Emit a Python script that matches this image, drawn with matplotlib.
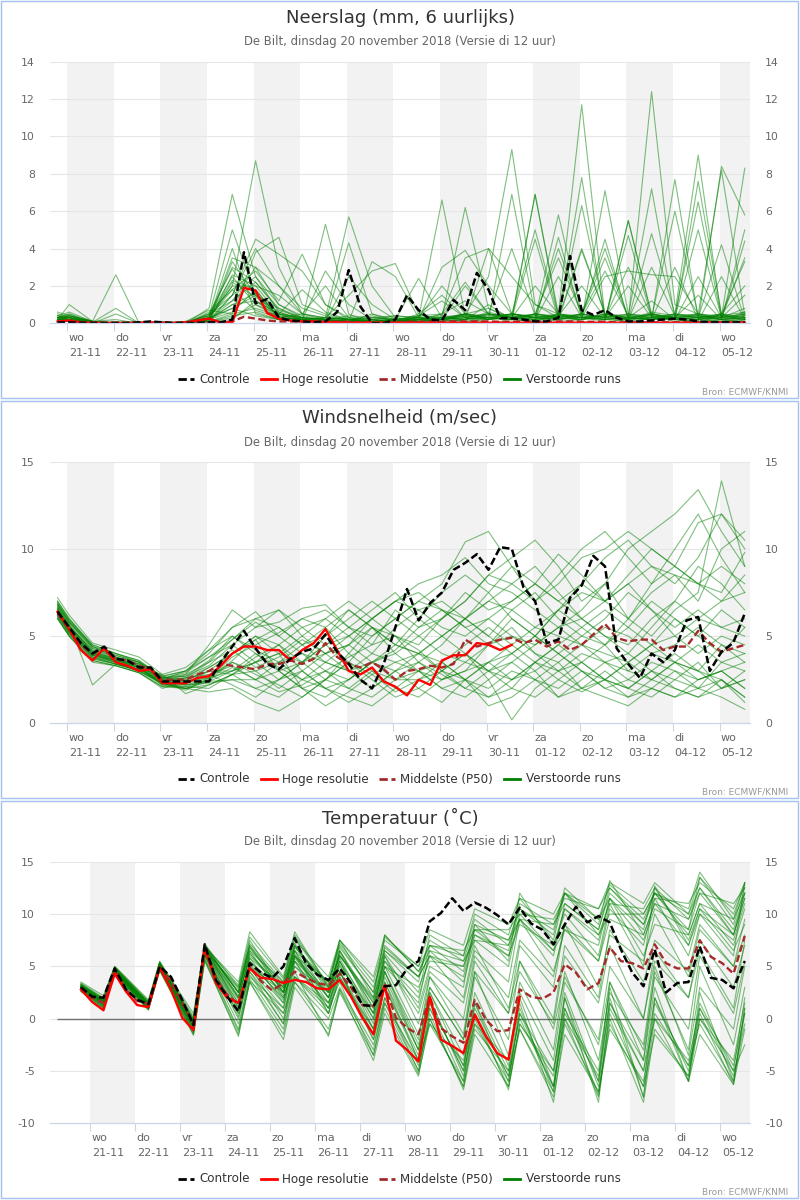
import matplotlib
matplotlib.use("Agg")
import matplotlib.pyplot as plt
from matplotlib.lines import Line2D
from matplotlib.patches import Rectangle
from matplotlib.transforms import blended_transform_factory, ScaledTranslation

plt.rcParams['font.family'] = ['DejaVu Sans']
plt.rcParams['axes.unicode_minus'] = False

# ---------------- data ----------------
SUBTITLE = "De Bilt, dinsdag 20 november 2018 (Versie di 12 uur)"
TITLES = ["Neerslag (mm, 6 uurlijks)", "Windsnelheid (m/sec)", "Temperatuur (\u02daC)"]
DAY_NAMES = ["wo", "do", "vr", "za", "zo", "ma", "di", "wo", "do", "vr", "za", "zo", "ma", "di", "wo"]
DAY_DATES = ["21-11", "22-11", "23-11", "24-11", "25-11", "26-11", "27-11", "28-11",
             "29-11", "30-11", "01-12", "02-12", "03-12", "04-12", "05-12"]
LEGEND_LABELS = ["Controle", "Hoge resolutie", "Middelste (P50)", "Verstoorde runs"]
SOURCE = "Bron: ECMWF/KNMI"

# time axis: hours after 21-11 00h, 6-hourly from 20-11 19h
HOURS = list(range(-5, 350, 6))
ENS_IDX = [0] + list(range(1, 60, 2))                                   # wind / precip members
ENS_IDX_T = [0] + [k for d in range(15) for k in (2 + 4 * d, 3 + 4 * d)]  # temperature members

# ---- precipitation ----
PRECIP_CTRL = [0.05, 0.05, 0.03, 0.02, 0.02, 0.02, 0.02, 0.05, 0.1, 0.05, 0.02, 0.02, 0.02, 0.05, 0.05,
               0.2, 3.8, 1.07, 1.3, 0.3, 0.15, 0.1, 0.05, 0.1, 0.6, 2.85, 0.9, 0.0, 0.0, 0.2,
               1.5, 0.7, 0.2, 0.15, 1.25, 0.7, 2.7, 1.8, 0.27, 0.27,
               0.2, 0.1, 0.1, 0.3, 3.6, 0.7, 0.45, 0.7, 0.3, 0.1,
               0.1, 0.15, 0.2, 0.25, 0.2, 0.1, 0.05, 0.05, 0.05, 0.05]
PRECIP_HIRES = [0.10, 0.15, 0.05, 0.03, 0.02, 0.02, 0.02, 0.03, 0.05, 0.03,
                0.02, 0.05, 0.15, 0.25, 0.05, 0.05, 1.90, 1.75, 0.55, 0.25,
                0.15, 0.10, 0.10, 0.05, 0.05, 0.03, 0.03, 0.03, 0.03, 0.03,
                0.03, 0.03, 0.03, 0.03, 0.03, 0.03, 0.03, 0.03, 0.03, 0.03,
                0.03, 0.03, 0.03, 0.03, 0.03, 0.03, 0.03, 0.03, 0.03, 0.03,
                0.03, 0.03, 0.03, 0.03, 0.03, 0.03, 0.03, 0.03, 0.03, 0.03]
PRECIP_MED = [0.05, 0.05, 0.03, 0.02, 0.02, 0.02, 0.02, 0.02, 0.02, 0.02,
              0.02, 0.02, 0.03, 0.05, 0.05, 0.1, 0.35, 0.25, 0.15, 0.1,
              0.1, 0.08, 0.08, 0.1, 0.08, 0.08, 0.05, 0.05, 0.05, 0.05,
              0.08, 0.08, 0.08, 0.08, 0.1, 0.1, 0.1, 0.1, 0.08, 0.08,
              0.1, 0.08, 0.08, 0.1, 0.1, 0.08, 0.08, 0.08, 0.05, 0.05,
              0.05, 0.05, 0.05, 0.05, 0.05, 0.05, 0.05, 0.05, 0.05, 0.05]
PRECIP_RUNS = [
    [0.2, 1.0, 0.1, 0, 0, 0, 0, 0.3, 2.0, 8.7, 3.0, 0.5, 0.2, 0.1, 0, 0.1, 0.5, 1.5, 0.3, 0, 0.2, 6.9, 0.5, 0.1, 0, 0.3, 1.2, 0.2, 0, 0.5, 0.1],
    [0.3, 0.4, 0.1, 2.6, 0, 0, 0, 0.1, 3.3, 1.5, 0.8, 0.2, 5.3, 0.5, 0, 0, 0.1, 0, 0.2, 1.0, 0.2, 0.1, 0.5, 11.7, 0.3, 0.1, 0.5, 0.2, 2.5, 0.3, 0.8],
    [0.1, 0.2, 0.05, 0.8, 0, 0, 0, 0.8, 6.9, 2.5, 1.0, 0.3, 0.1, 4.3, 0.5, 0.1, 0, 0.3, 6.2, 0.8, 0.2, 0.1, 4.6, 0.3, 0.1, 5.5, 0.4, 0.1, 0.2, 0.1, 0.3],
    [0.5, 0.3, 0, 0, 0.1, 0, 0, 0.2, 1.5, 4.5, 3.7, 2.8, 1.0, 0.3, 0.1, 0, 0.2, 3.0, 3.9, 2.0, 0.5, 0.3, 0.1, 0.2, 7.1, 0.5, 0.3, 0.2, 0.1, 8.4, 5.8],
    [0.2, 0.1, 0, 0.1, 0, 0, 0, 0.5, 2.9, 1.2, 0.5, 0.2, 0.3, 5.7, 2.0, 0.3, 0.1, 0.2, 0.5, 2.5, 9.3, 1.0, 0.3, 6.3, 0.5, 0.2, 12.4, 1.0, 0.5, 0.2, 0.1],
    [0.4, 0.6, 0.1, 0, 0, 0, 0.1, 0.4, 3.0, 2.2, 0.7, 0.3, 0.2, 0.1, 3.3, 2.5, 0.3, 0.1, 0.2, 0.3, 0.2, 0.5, 3.5, 0.5, 2.8, 0.4, 7.2, 0.3, 1.5, 0.2, 4.4],
    [0.1, 0.2, 0, 0.5, 0, 0, 0, 0.1, 0.5, 3.8, 4.6, 1.0, 0.5, 0.2, 0.1, 0, 0.4, 1.2, 0.3, 0.5, 0.3, 6.9, 0.3, 7.8, 0.2, 4.7, 0.3, 0.2, 7.6, 0.5, 3.3],
    [0.3, 0.3, 0.05, 0, 0, 0, 0, 0.6, 1.8, 2.8, 1.2, 3.7, 1.0, 0.2, 0, 0.1, 0.3, 0.2, 2.0, 0.5, 0.3, 4.5, 0.2, 0.5, 4.0, 0.3, 0.2, 3.0, 0.2, 0.1, 0.5],
    [0.2, 0.2, 0, 0, 0, 0, 0, 0.3, 2.3, 1.8, 0.3, 0.2, 0.3, 1.5, 2.8, 3.2, 0.5, 0.2, 0.1, 0.3, 0.5, 0.3, 5.8, 0.5, 0.2, 0.1, 0.3, 0.5, 9.0, 0.3, 0.2],
    [0.1, 0.1, 0, 0, 0, 0.1, 0, 0.2, 1.0, 1.6, 0.5, 0.1, 0.2, 0.4, 0.3, 0.2, 2.4, 0.3, 0.5, 0.2, 6.9, 0.5, 0.3, 0.2, 0.5, 0.3, 0.2, 0.4, 0.5, 8.2, 0.4],
    [0.6, 0.4, 0.1, 0, 0, 0, 0, 0.1, 0.3, 1.0, 0.5, 0.3, 0.2, 0.1, 0.1, 0.2, 0.3, 6.6, 0.4, 0.2, 0.3, 0.5, 0.4, 0.3, 0.2, 5.5, 0.5, 0.2, 0.3, 0.1, 0.2],
    [0.2, 0.3, 0.1, 0.2, 0, 0, 0, 0.4, 5.0, 1.5, 0.3, 0.5, 2.0, 0.3, 0.2, 0.1, 0.2, 0.5, 3.5, 4.0, 2.5, 1.0, 0.5, 0.3, 2.5, 2.8, 2.6, 2.5, 0.5, 0.3, 1.5],
    [0.3, 0.2, 0, 0, 0, 0, 0, 0.2, 1.2, 3.0, 2.0, 0.8, 0.4, 0.2, 0.1, 0.3, 0.2, 0.1, 0.3, 0.2, 0.5, 0.3, 4.0, 0.5, 0.3, 0.2, 0.6, 0.4, 6.5, 0.3, 0.5],
    [0.1, 0.1, 0, 0, 0, 0, 0.1, 0.7, 0.5, 0.8, 0.4, 0.3, 0.2, 0.1, 0.5, 0.2, 0.1, 0.2, 0.5, 0.8, 0.3, 2.0, 0.5, 0.2, 0.3, 0.5, 0.2, 0.3, 0.1, 2.5, 0.2],
    [0.2, 0.4, 0.1, 0, 0, 0, 0, 0.2, 4.0, 0.5, 0.2, 0.1, 0.1, 0.2, 0.1, 0.1, 0.2, 0.3, 0.2, 0.6, 0.3, 0.1, 0.4, 2.0, 0.3, 0.2, 4.8, 0.5, 0.3, 0.2, 0.6],
    [0.4, 0.2, 0, 0, 0, 0, 0, 0.1, 2.6, 2.0, 1.5, 0.5, 0.3, 0.2, 0.1, 0.1, 0.2, 0.1, 0.5, 0.3, 0.4, 0.2, 0.5, 0.3, 0.4, 0.2, 0.3, 0.5, 0.4, 0.3, 8.3],
    [0.2, 0.1, 0, 0, 0, 0, 0, 0.3, 0.8, 0.4, 0.2, 0.1, 0.3, 0.2, 0.4, 0.1, 0.1, 0.5, 1.2, 0.5, 0.4, 0.3, 0.2, 3.9, 0.5, 0.3, 0.2, 7.7, 0.3, 0.5, 0.2],
    [0.3, 0.5, 0, 0, 0, 0, 0, 0.5, 1.5, 2.5, 0.6, 0.2, 0.1, 0.3, 0.2, 0.1, 0.3, 0.2, 0.1, 0.2, 0.5, 0.4, 0.2, 0.3, 4.5, 0.2, 0.4, 0.3, 0.2, 0.5, 0.3],
    [0.1, 0.1, 0, 0, 0, 0, 0, 0.1, 0.2, 1.2, 0.3, 0.2, 0.1, 0.2, 0.1, 0.1, 0.2, 0.3, 0.5, 0.2, 0.3, 0.5, 0.3, 0.2, 0.5, 0.4, 0.3, 0.2, 0.5, 0.2, 5.0],
    [0.2, 0.3, 0.05, 0, 0, 0, 0, 0.2, 0.6, 1.8, 0.3, 0.2, 0.1, 0.2, 0.3, 0.4, 0.3, 0.2, 0.4, 0.3, 0.2, 0.3, 0.4, 0.3, 0.2, 0.3, 0.5, 0.3, 0.4, 0.2, 0.3],
    [0.3, 0.5, 0.1, 0, 0, 0, 0, 0.2, 3.5, 3.0, 1.0, 0.4, 0.2, 0.1, 0.2, 0.1, 0.2, 0.3, 0.2, 4.0, 0.5, 0.3, 0.2, 0.5, 0.3, 3.0, 0.4, 0.2, 0.3, 4.2, 0.2],
    [0.2, 0.2, 0, 0, 0, 0, 0, 0.4, 2.5, 1.0, 0.3, 0.2, 2.8, 1.0, 0.2, 0.1, 0.3, 2.0, 0.5, 0.3, 0.2, 0.4, 0.3, 4.0, 0.5, 0.3, 0.2, 0.3, 5.0, 0.3, 0.4],
    [0.1, 0.2, 0, 0, 0, 0, 0, 0.1, 1.5, 4.0, 2.0, 0.5, 0.3, 0.2, 0.1, 0.1, 0.2, 0.2, 0.4, 0.3, 0.5, 5.0, 0.4, 0.3, 0.2, 0.4, 0.3, 0.2, 0.4, 0.3, 3.5],
    [0.4, 0.3, 0.05, 0, 0, 0, 0, 0.3, 2.0, 2.0, 0.5, 1.8, 0.6, 0.2, 0.1, 0.2, 0.4, 0.5, 2.2, 0.5, 0.3, 0.2, 0.3, 0.5, 0.3, 2.0, 0.3, 6.0, 0.4, 0.2, 0.3],
    [0.2, 0.3, 0, 0, 0, 0, 0, 0.2, 0.8, 1.5, 0.4, 0.2, 0.1, 2.5, 1.0, 0.2, 0.1, 0.2, 0.3, 0.5, 4.0, 0.4, 0.3, 0.5, 3.5, 0.3, 0.2, 0.4, 0.3, 0.5, 2.0],
    [0.3, 0.4, 0.1, 0, 0, 0, 0, 0.5, 1.2, 2.2, 0.8, 0.3, 0.2, 0.1, 0.2, 0.4, 0.3, 0.2, 0.5, 0.4, 0.3, 0.2, 2.5, 0.3, 0.4, 0.2, 0.5, 0.3, 0.2, 0.4, 0.6],
    [0.1, 0.1, 0, 0, 0, 0, 0, 0.1, 0.4, 0.6, 0.2, 0.1, 0.2, 0.1, 0.1, 0.2, 0.1, 0.3, 0.2, 0.5, 0.3, 0.2, 0.4, 0.3, 0.5, 0.2, 3.0, 0.4, 0.3, 0.2, 0.4],
    [0.2, 0.2, 0, 0, 0, 0, 0, 0.2, 1.0, 1.2, 0.5, 0.3, 0.2, 0.1, 0.3, 0.2, 0.4, 0.3, 0.2, 0.4, 0.5, 0.3, 0.2, 0.4, 0.3, 0.5, 0.4, 0.3, 0.5, 0.4, 0.3],
    [0.3, 0.3, 0.05, 0, 0, 0, 0, 0.3, 1.8, 0.7, 0.3, 0.2, 0.1, 0.2, 0.1, 0.1, 0.2, 0.4, 0.3, 0.2, 0.4, 0.3, 0.5, 0.4, 0.2, 0.3, 0.2, 0.5, 0.3, 0.4, 0.2],
    [0.2, 0.4, 0.05, 0, 0, 0, 0, 0.2, 2.2, 1.4, 0.6, 0.2, 0.3, 0.2, 0.1, 0.2, 0.3, 0.2, 0.4, 0.3, 0.2, 0.5, 0.3, 0.2, 0.4, 0.3, 0.5, 0.3, 0.2, 0.3, 0.5],
]

# ---- wind ----
WIND_CTRL = [6.4, 5.5, 4.6, 4.0, 4.4, 3.7, 3.6, 3.2, 3.2, 2.4,
             2.4, 2.4, 2.4, 2.4, 3.5, 4.4, 5.3, 4.3, 3.4, 3.1,
             3.7, 4.1, 4.3, 5.1, 4.1, 3.4, 2.5, 2.0, 3.4, 5.5,
             7.7, 5.9, 6.9, 7.5, 8.8, 9.2, 9.7, 8.8, 10.1, 10.0,
             7.8, 7.0, 4.6, 4.8, 7.2, 7.9, 9.6, 9.0, 4.3, 3.4,
             2.6, 4.0, 3.5, 4.2, 5.9, 6.1, 3.0, 4.1, 4.6, 6.3]
WIND_HIRES = [6.4, 5.4, 4.2, 3.6, 4.3, 3.5, 3.3, 3.0, 3.1, 2.3,
              2.3, 2.3, 2.6, 2.7, 3.3, 4.0, 4.4, 4.4, 4.2, 4.2,
              3.6, 4.2, 4.6, 5.4, 4.2, 3.0, 2.8, 3.2, 2.4, 2.1,
              1.6, 2.5, 2.2, 3.6, 3.9, 3.9, 4.6, 4.5, 4.2, 4.5]
WIND_MED = [6.3, 5.4, 4.5, 4.0, 4.3, 3.7, 3.6, 3.3, 3.1, 2.5,
            2.5, 2.5, 2.8, 3.0, 3.4, 3.3, 3.2, 3.1, 3.4, 3.4,
            3.6, 3.4, 3.7, 4.6, 3.8, 3.4, 3.2, 3.5, 3.1, 2.5,
            3.0, 3.1, 3.3, 3.2, 3.4, 4.8, 4.4, 4.6, 4.8, 4.9,
            4.6, 4.8, 4.4, 4.7, 4.2, 4.5, 5.1, 5.7, 4.9, 4.7,
            4.8, 4.8, 4.2, 4.4, 4.4, 5.3, 4.6, 4.1, 4.3, 4.5]
WIND_RUNS = [
    [6.6, 5.6, 4.1, 3.7, 3.3, 2.5, 2.2, 2.6, 3.8, 4.5, 5.2, 6.0, 5.5, 4.0, 3.0, 2.5, 3.5, 4.5, 6.0, 7.0, 8.0, 9.0, 7.5, 6.0, 5.0, 4.0, 5.5, 7.0, 9.0, 8.0, 6.5],
    [6.2, 5.2, 3.8, 3.5, 3.0, 2.3, 2.0, 2.4, 2.5, 2.0, 1.5, 2.5, 3.0, 2.0, 1.5, 2.5, 3.0, 2.0, 1.5, 2.5, 3.5, 2.5, 2.0, 3.0, 2.5, 1.5, 2.0, 3.0, 2.0, 1.5, 0.8],
    [7.0, 6.0, 4.4, 3.9, 3.5, 2.6, 2.8, 3.5, 4.8, 6.0, 5.5, 4.5, 5.0, 6.5, 5.5, 4.0, 5.0, 6.0, 7.0, 8.5, 9.5, 10.5, 9.0, 7.0, 8.0, 10.0, 11.0, 12.0, 13.4, 11.0, 9.0],
    [6.0, 5.0, 3.5, 3.3, 2.9, 2.1, 2.0, 1.8, 2.0, 1.2, 0.7, 1.5, 2.5, 3.5, 2.5, 1.5, 2.0, 3.0, 4.0, 3.0, 2.5, 3.5, 3.0, 2.0, 2.5, 3.5, 4.5, 3.5, 2.5, 3.0, 2.0],
    [6.8, 5.8, 4.3, 3.8, 3.4, 2.7, 3.0, 4.0, 5.5, 6.4, 5.0, 4.0, 3.5, 3.0, 4.0, 5.5, 6.5, 7.0, 6.0, 5.0, 6.5, 7.5, 6.0, 5.0, 4.5, 6.0, 7.5, 8.5, 7.0, 10.0, 11.0],
    [6.4, 5.4, 4.0, 3.6, 3.2, 2.4, 2.5, 3.0, 3.0, 3.5, 4.0, 3.5, 4.5, 5.0, 4.0, 3.5, 4.0, 3.0, 2.5, 3.5, 4.5, 5.5, 5.0, 4.5, 5.5, 5.0, 4.0, 4.5, 5.5, 4.5, 4.0],
    [6.7, 5.7, 2.2, 3.4, 3.1, 2.8, 1.7, 2.2, 2.8, 3.8, 4.5, 3.0, 2.0, 1.5, 1.0, 2.0, 3.0, 3.5, 2.5, 1.5, 2.0, 3.5, 4.5, 3.5, 2.5, 2.0, 3.0, 2.5, 2.0, 3.5, 4.0],
    [6.5, 5.5, 4.2, 3.7, 3.3, 2.4, 2.8, 4.5, 6.5, 5.5, 5.8, 6.6, 6.8, 5.5, 4.5, 6.5, 5.5, 6.0, 7.5, 6.5, 7.0, 8.0, 9.7, 8.5, 7.0, 8.0, 9.0, 8.5, 8.0, 9.0, 8.0],
    [6.3, 5.3, 3.9, 3.5, 3.2, 2.2, 2.0, 2.5, 3.5, 3.0, 2.0, 3.0, 4.0, 4.5, 3.5, 3.0, 2.0, 1.2, 2.5, 3.5, 4.0, 3.0, 1.5, 2.5, 3.5, 4.0, 3.0, 2.0, 1.5, 2.5, 1.5],
    [6.9, 5.9, 4.5, 4.0, 3.6, 2.6, 2.4, 3.2, 4.0, 5.0, 4.0, 5.0, 6.0, 5.0, 6.0, 7.0, 8.0, 8.5, 9.5, 8.0, 7.5, 6.5, 5.5, 6.5, 8.0, 6.0, 5.0, 6.5, 7.5, 13.9, 9.0],
    [6.1, 5.1, 3.7, 3.4, 3.0, 2.3, 2.1, 2.0, 2.8, 3.0, 3.5, 4.0, 3.0, 2.5, 3.5, 4.5, 4.0, 3.5, 4.5, 5.5, 4.5, 3.5, 4.5, 5.5, 6.5, 5.5, 4.5, 5.0, 4.0, 5.0, 4.5],
    [6.6, 5.6, 4.1, 3.6, 3.4, 2.5, 3.0, 3.8, 4.5, 3.5, 4.5, 5.5, 4.5, 3.5, 5.0, 6.0, 5.0, 4.0, 3.5, 4.5, 6.0, 5.0, 4.0, 5.0, 6.0, 7.5, 6.5, 5.5, 6.5, 5.5, 5.0],
    [6.4, 5.4, 4.0, 3.5, 3.1, 2.4, 2.6, 2.8, 3.3, 2.5, 1.8, 2.2, 3.0, 3.8, 4.5, 5.0, 4.2, 3.0, 2.0, 3.0, 4.0, 5.0, 4.0, 3.0, 2.0, 1.5, 2.5, 3.5, 3.0, 2.0, 2.5],
    [7.2, 6.2, 4.6, 4.2, 3.8, 2.8, 3.2, 4.2, 5.0, 4.0, 3.0, 3.5, 5.0, 6.0, 7.0, 6.0, 7.0, 8.0, 10.4, 11.0, 9.0, 7.0, 8.5, 10.0, 11.0, 9.5, 8.0, 10.0, 12.0, 9.5, 7.5],
    [6.2, 5.2, 3.9, 3.6, 3.2, 2.2, 2.2, 2.3, 2.5, 2.5, 3.5, 2.5, 2.0, 2.5, 3.5, 2.5, 2.5, 3.0, 4.0, 2.5, 0.2, 2.0, 3.0, 4.0, 3.5, 2.5, 2.0, 1.5, 2.5, 3.0, 3.5],
    [6.5, 5.5, 4.0, 3.6, 3.3, 2.5, 2.6, 3.5, 4.2, 3.2, 3.8, 4.8, 4.0, 3.0, 3.5, 4.2, 5.5, 6.5, 5.5, 4.5, 5.0, 4.0, 3.5, 4.5, 4.0, 3.5, 4.5, 6.0, 5.0, 4.0, 5.5],
    [6.3, 5.3, 3.8, 3.4, 3.1, 2.3, 1.9, 2.6, 3.6, 4.8, 3.0, 2.0, 2.5, 4.0, 5.5, 5.0, 3.5, 2.5, 3.0, 4.5, 5.5, 4.0, 3.0, 3.5, 4.5, 3.0, 2.5, 3.5, 4.5, 3.5, 3.0],
    [6.8, 5.8, 4.3, 3.9, 3.5, 2.7, 2.3, 3.0, 2.8, 2.0, 2.5, 3.5, 4.5, 5.5, 6.5, 7.5, 6.0, 5.0, 6.0, 7.0, 6.5, 5.5, 6.5, 7.5, 7.0, 8.5, 10.0, 9.0, 8.0, 7.5, 9.8],
    [6.0, 5.0, 3.6, 3.3, 2.9, 2.0, 2.4, 2.6, 3.0, 3.5, 4.0, 2.0, 1.0, 1.8, 2.8, 3.5, 3.0, 2.0, 2.5, 1.0, 1.5, 2.5, 3.5, 2.0, 1.5, 1.0, 2.0, 1.5, 2.0, 2.5, 1.2],
    [6.7, 5.7, 4.2, 3.8, 3.4, 2.6, 2.7, 3.3, 4.5, 5.5, 6.5, 5.0, 4.0, 4.5, 6.0, 7.0, 7.5, 6.5, 5.5, 6.0, 5.0, 4.5, 5.5, 6.0, 5.0, 4.5, 6.0, 7.0, 6.0, 5.5, 6.0],
    [6.5, 5.5, 4.0, 3.7, 3.2, 2.4, 2.5, 3.0, 4.0, 5.0, 4.5, 3.5, 4.0, 5.0, 6.0, 7.0, 6.5, 5.5, 5.0, 6.0, 7.0, 8.0, 7.0, 6.0, 7.0, 8.0, 6.5, 5.0, 6.0, 7.0, 7.5],
    [6.1, 5.1, 3.8, 3.4, 3.0, 2.3, 2.4, 2.8, 2.2, 1.5, 2.5, 3.5, 2.5, 2.0, 3.0, 2.0, 1.5, 2.5, 3.5, 3.0, 2.0, 1.5, 2.5, 3.5, 2.5, 2.0, 3.0, 4.0, 3.0, 2.5, 1.5],
    [6.8, 5.8, 4.4, 3.8, 3.5, 2.6, 2.7, 3.6, 5.0, 4.2, 3.5, 4.5, 5.5, 6.5, 5.5, 4.5, 6.0, 7.5, 8.5, 7.5, 6.0, 5.0, 6.5, 8.0, 9.5, 10.5, 9.0, 8.0, 9.5, 12.0, 10.0],
    [6.3, 5.3, 3.9, 3.5, 3.1, 2.4, 2.2, 2.4, 3.0, 4.0, 3.2, 2.5, 3.5, 3.0, 2.0, 3.0, 4.0, 5.0, 4.0, 3.0, 3.5, 4.5, 5.5, 4.5, 3.5, 3.0, 4.0, 3.5, 3.0, 4.5, 3.5],
    [7.0, 6.0, 4.5, 4.0, 3.6, 2.7, 3.0, 4.2, 5.5, 6.0, 6.5, 5.5, 6.0, 7.0, 6.0, 5.0, 4.5, 6.0, 7.0, 8.5, 8.0, 7.0, 8.0, 9.5, 10.0, 11.0, 10.0, 9.0, 11.5, 12.0, 10.5],
    [6.2, 5.2, 3.7, 3.4, 3.0, 2.2, 2.3, 2.7, 3.5, 2.8, 2.2, 1.5, 2.5, 3.5, 2.8, 1.8, 2.5, 3.5, 2.5, 2.0, 3.0, 2.5, 1.5, 2.0, 3.0, 2.0, 1.5, 2.5, 3.5, 2.0, 2.5],
    [6.6, 5.6, 4.1, 3.7, 3.3, 2.5, 2.6, 3.2, 4.0, 4.8, 5.5, 4.5, 3.5, 4.5, 5.5, 4.5, 4.0, 5.0, 6.0, 5.0, 4.0, 5.0, 6.5, 5.5, 4.5, 5.5, 7.0, 6.0, 5.0, 6.5, 5.5],
    [6.4, 5.4, 3.9, 3.6, 3.2, 2.3, 2.0, 2.2, 2.8, 3.5, 2.5, 3.0, 2.0, 1.2, 2.0, 3.0, 3.5, 2.8, 2.0, 1.5, 2.5, 3.5, 2.5, 1.8, 2.5, 3.5, 2.5, 2.0, 1.5, 2.0, 3.0],
    [6.9, 5.9, 4.4, 4.0, 3.5, 2.6, 2.9, 3.8, 4.8, 5.8, 5.0, 6.0, 6.5, 5.5, 5.0, 6.0, 7.0, 6.5, 6.0, 7.5, 9.0, 8.0, 7.0, 8.0, 7.0, 6.0, 8.0, 9.0, 8.0, 7.0, 8.5],
    [6.0, 5.0, 3.6, 3.3, 2.9, 2.1, 2.1, 2.5, 3.2, 2.5, 3.0, 2.0, 1.5, 2.5, 3.5, 4.0, 3.0, 2.5, 3.0, 3.5, 2.5, 3.0, 4.0, 3.0, 2.0, 2.5, 3.5, 3.0, 2.5, 3.0, 2.0],
]

# ---- temperature ----
TEMP_CTRL = [3.0, 2.1, 2.0, 4.8, 2.8, 1.8, 1.4, 5.0, 4.0, 1.8,
             -0.6, 7.1, 3.7, 2.1, 0.7, 5.3, 4.4, 3.9, 5.0, 7.7,
             5.3, 4.2, 3.7, 4.8, 3.4, 1.3, 1.2, 3.1, 3.2, 4.8,
             5.5, 9.3, 10.1, 11.5, 10.3, 11.1, 10.6, 9.9, 9.0, 10.6,
             9.1, 8.5, 7.1, 9.0, 10.7, 9.2, 9.8, 9.2, 6.6, 4.4,
             3.1, 6.6, 2.5, 3.4, 3.5, 6.9, 3.9, 3.7, 2.9, 5.5]
TEMP_HIRES = [2.8, 1.6, 0.8, 4.3, 2.6, 1.3, 1.1, 4.9, 2.8, 0.1,
              -1.1, 6.8, 3.4, 2.0, 1.5, 4.8, 3.9, 3.8, 3.4, 3.7,
              3.5, 2.9, 2.8, 3.7, 2.1, 0.1, -1.5, 3.2, -2.1, -3.0,
              -4.1, 2.1, -2.0, -2.6, -3.3, 0.4, -1.7, -3.3, -3.9, 2.1]
TEMP_MED = [2.9, 2.0, 1.5, 4.6, 2.8, 1.7, 1.4, 4.9, 3.6, 1.5,
            -0.5, 6.8, 3.8, 2.3, 1.4, 5.0, 3.6, 2.7, 3.4, 4.5,
            3.9, 3.4, 3.2, 4.3, 3.0, 1.3, 1.2, 3.1, 0.1, -0.9,
            -1.5, 2.1, -0.9, -1.7, -2.3, 1.8, -0.1, -1.2, -1.1, 2.8,
            2.1, 1.9, 2.5, 5.2, 4.4, 2.8, 3.4, 6.8, 5.5, 5.3,
            4.8, 7.1, 5.3, 4.8, 4.8, 7.5, 5.9, 5.3, 4.3, 7.9]
TEMP_RUNS = [
    [3.2, 1.8, 4.8, 1.5, 5.3, -0.3, 6.8, 2.5, 6.5, 3.5, 7.8, 3.0, 6.0, 1.8, 6.8, 4.0, 7.5, 5.5, 9.0, 7.5, 10.5, 8.5, 12.0, 9.0, 13.2, 8.0, 11.0, 9.5, 12.5, 8.0, 11.5],
    [2.8, 1.2, 4.4, 1.0, 4.8, -1.2, 6.0, 0.5, 4.8, 1.0, 5.0, 2.5, 5.5, -1.0, 3.5, -3.0, 1.0, -4.5, 0.5, -5.5, -1.0, -7.0, 1.0, -6.0, 2.0, -7.5, 1.5, -4.5, -0.5, -6.0, 1.0],
    [3.0, 1.5, 4.6, 1.3, 5.0, -0.5, 6.5, 3.0, 7.5, 2.5, 6.0, 3.5, 7.0, 2.5, 7.8, 5.0, 7.0, 6.5, 8.5, 8.5, 10.0, 9.5, 11.5, 10.5, 12.5, 9.0, 12.0, 10.0, 13.5, 9.0, 12.5],
    [3.4, 2.0, 5.0, 1.8, 5.5, 0.2, 7.0, 1.0, 5.0, 0.0, 4.0, 1.5, 4.5, -2.0, 2.0, -4.5, 0.0, -6.5, -1.0, -5.0, 1.5, -8.0, -0.5, -7.0, 0.5, -6.5, 2.0, -5.0, 0.5, -6.3, -1.0],
    [2.6, 1.0, 4.2, 0.8, 4.6, -1.5, 5.5, -1.5, 3.5, -2.0, 3.0, -1.5, 2.5, -3.5, 1.5, -5.0, 0.5, -6.8, -1.5, -6.5, -0.5, -5.5, 2.5, -6.0, 3.5, -4.0, 4.5, -3.0, 5.0, -2.5, 3.0],
    [3.1, 1.7, 4.7, 1.4, 5.2, -0.2, 7.2, 2.0, 5.8, 3.0, 6.5, 2.0, 5.0, 0.5, 6.0, 1.0, 5.0, 3.0, 9.0, 5.5, 12.0, 7.0, 10.0, 6.0, 11.0, 5.0, 12.7, 7.0, 10.0, 6.0, 13.0],
    [2.9, 1.3, 4.5, 1.1, 4.9, -0.8, 6.2, 0.0, 4.5, -0.5, 5.5, 1.0, 5.5, -0.5, 4.5, -2.5, 2.5, -3.5, 4.0, -2.0, 5.5, 0.0, 7.0, 2.0, 8.5, 3.5, 7.5, 4.5, 9.0, 5.0, 8.0],
    [3.3, 1.9, 4.9, 1.6, 5.4, -0.1, 6.9, 3.5, 8.3, 4.0, 8.3, 3.0, 7.5, 2.0, 8.0, 4.5, 6.5, 5.5, 7.5, 7.0, 9.5, 6.5, 10.5, 8.0, 10.0, 10.0, 12.0, 10.5, 14.0, 9.5, 12.0],
    [3.0, 1.6, 4.6, 1.2, 5.0, -1.0, 6.4, 1.5, 5.2, 2.0, 5.0, 1.5, 4.5, -1.5, 3.0, -3.5, 2.0, -5.5, 0.5, -6.8, -0.5, -5.0, 1.0, -7.3, 0.0, -8.0, -1.0, -5.5, 1.0, -4.5, 0.5],
    [2.7, 1.1, 4.3, 0.9, 4.7, -1.3, 5.8, -1.0, 4.0, 1.0, 6.0, 2.5, 6.5, 1.0, 5.5, 2.0, 6.0, 4.0, 8.0, 6.0, 9.5, 4.5, 8.5, 7.0, 11.5, 6.0, 9.0, 8.0, 11.0, 7.0, 10.5],
    [3.5, 2.2, 5.0, 1.7, 5.4, 0.5, 7.0, 2.5, 6.8, 2.5, 6.5, 3.5, 7.2, 3.0, 6.5, 4.0, 6.0, 2.0, 7.0, 1.0, 5.5, -1.0, 4.0, -2.5, 3.5, -3.0, 4.0, -1.0, 6.0, 0.5, 5.5],
    [2.9, 1.4, 4.5, 1.0, 4.9, -0.9, 6.3, 1.0, 5.5, 2.5, 6.5, 0.5, 4.0, -1.5, 3.5, -4.0, -0.5, -4.0, 1.0, -5.5, 0.5, -6.5, 0.0, -5.5, 1.5, -4.0, 3.0, -6.0, 0.0, -5.0, 2.0],
    [3.1, 1.6, 4.7, 1.3, 5.1, -0.4, 6.6, 2.0, 6.0, 3.0, 7.0, 3.0, 6.0, 2.0, 5.5, 0.5, 4.5, 1.5, 6.5, 3.5, 9.5, 6.0, 11.0, 8.5, 12.5, 9.5, 12.0, 8.0, 11.0, 9.5, 13.0],
    [3.0, 1.5, 4.6, 1.2, 5.0, -0.7, 6.1, 0.5, 4.5, 0.5, 4.0, 1.0, 3.5, -3.5, 1.0, -5.3, -0.5, -6.0, 0.0, -6.5, -1.0, -7.5, -1.5, -7.0, -1.0, -6.0, 0.5, -4.5, 1.5, -5.0, -2.5],
    [3.2, 1.7, 4.8, 1.5, 5.2, -0.2, 6.7, 2.5, 6.5, 2.0, 5.5, 2.5, 6.0, 1.5, 5.0, 3.0, 5.5, 5.0, 8.0, 6.5, 10.5, 8.0, 12.5, 9.5, 11.5, 7.5, 10.5, 8.5, 12.0, 8.0, 11.5],
    [2.8, 1.2, 4.4, 1.1, 4.8, -1.1, 6.0, -0.5, 3.8, -1.0, 3.5, 0.0, 3.0, -2.5, 1.5, -4.0, 1.5, -5.0, 2.5, -4.5, 3.5, -3.0, 4.5, -4.0, 2.5, -2.5, 5.0, -3.5, 3.0, -1.0, 5.0],
    [3.3, 1.8, 4.9, 1.4, 5.3, 0.0, 7.1, 3.0, 7.0, 2.5, 7.0, 2.0, 6.5, 0.5, 5.0, -1.5, 3.0, -2.0, 4.5, 0.5, 7.0, 3.0, 9.0, 5.5, 10.5, 7.0, 11.5, 6.0, 10.0, 7.5, 11.0],
    [3.0, 1.5, 4.5, 1.3, 5.0, -0.6, 6.4, 1.8, 6.2, 2.8, 6.8, 3.5, 7.5, 4.0, 8.0, 4.5, 7.0, 6.0, 9.5, 7.0, 11.0, 9.0, 12.0, 10.5, 13.0, 11.0, 13.0, 10.0, 12.5, 8.5, 12.0],
    [2.6, 1.0, 4.2, 0.9, 4.6, -1.6, 5.6, -1.7, 3.6, 0.5, 4.5, -1.7, 2.8, -3.0, 2.0, -5.0, 1.0, -6.0, 1.5, -5.0, 0.0, -6.5, 2.0, -8.0, 1.0, -5.0, 2.0, -6.0, -1.5, -6.3, 0.5],
    [3.1, 1.6, 4.7, 1.4, 5.1, -0.3, 6.6, 2.2, 5.8, 1.5, 6.0, 2.0, 5.8, 0.0, 4.5, -2.0, 4.0, 0.0, 6.0, 2.0, 7.5, 4.0, 9.0, 3.0, 8.0, 5.5, 10.0, 4.0, 8.5, 5.0, 9.5],
    [3.1, 1.7, 4.6, 1.4, 5.2, -0.4, 6.7, 2.8, 7.0, 3.2, 7.2, 2.5, 6.2, 1.0, 6.5, 3.5, 8.0, 6.0, 10.0, 8.0, 11.5, 7.5, 12.0, 9.5, 12.8, 10.0, 12.0, 8.5, 13.5, 10.0, 12.8],
    [2.9, 1.4, 4.4, 1.2, 4.9, -0.8, 6.2, 0.8, 5.0, 1.5, 5.5, 0.5, 4.5, -2.0, 3.0, -4.0, 1.5, -5.0, -0.5, -4.0, 2.0, -6.5, 0.5, -5.0, 3.0, -7.5, 0.0, -4.0, 1.0, -5.5, -0.5],
    [3.2, 1.8, 4.9, 1.5, 5.3, -0.2, 6.9, 3.2, 7.8, 3.8, 8.0, 3.2, 6.8, 2.5, 7.0, 4.0, 6.0, 5.0, 8.5, 7.5, 9.5, 9.0, 11.0, 8.5, 12.0, 9.0, 11.5, 11.0, 13.0, 10.5, 13.0],
    [2.8, 1.3, 4.3, 1.0, 4.7, -1.0, 6.1, 0.2, 4.2, -0.5, 4.0, 0.5, 4.0, -1.0, 4.0, -3.0, 3.0, -2.0, 4.5, -3.5, 2.5, -4.0, 3.5, -2.0, 5.0, 0.0, 6.5, 2.0, 7.5, 3.0, 7.0],
    [3.0, 1.6, 4.7, 1.3, 5.0, -0.5, 6.5, 2.0, 6.3, 2.2, 6.2, 1.5, 5.2, 0.0, 5.0, 1.5, 6.5, 3.5, 7.5, 5.0, 10.0, 6.5, 8.5, 5.5, 9.5, 8.0, 11.0, 7.0, 10.5, 6.5, 9.0],
    [2.7, 1.1, 4.3, 0.9, 4.7, -1.4, 5.7, -1.2, 3.5, -1.5, 3.5, -1.0, 2.8, -4.0, 0.5, -5.5, 0.0, -6.5, -0.5, -6.0, 1.0, -7.0, 0.0, -7.5, -0.5, -6.5, -1.5, -5.5, 0.0, -4.0, 1.5],
    [3.3, 1.9, 4.8, 1.6, 5.3, 0.0, 7.0, 2.5, 7.2, 3.5, 7.5, 4.0, 7.5, 3.5, 7.5, 5.0, 8.5, 7.0, 10.5, 9.0, 11.5, 10.0, 12.0, 8.0, 11.0, 10.5, 12.5, 9.5, 12.0, 11.0, 12.5],
    [3.0, 1.5, 4.6, 1.1, 5.0, -0.6, 6.3, 1.2, 5.5, 1.8, 5.8, 2.0, 5.5, 0.5, 6.0, -0.5, 4.0, -1.5, 5.5, 0.5, 4.5, -0.5, 6.0, 1.5, 7.0, 0.0, 5.5, 2.0, 6.5, 1.0, 7.5],
    [2.9, 1.4, 4.5, 1.2, 5.0, -0.7, 6.4, 1.5, 5.0, 2.5, 6.0, 1.0, 4.5, -1.0, 4.5, -3.0, 2.5, -4.5, 1.5, -6.0, 0.5, -5.0, 2.0, -6.5, 1.5, -5.0, 0.0, -6.0, 2.5, -6.0, 1.0],
    [3.1, 1.7, 4.7, 1.4, 5.1, -0.3, 6.8, 2.5, 6.8, 3.0, 7.0, 2.8, 6.5, 1.5, 6.2, 2.5, 7.0, 4.5, 8.5, 6.0, 9.0, 7.0, 10.5, 7.5, 11.5, 8.5, 12.5, 7.5, 10.5, 8.0, 12.0],
]
TEMP_ZERO_START, TEMP_ZERO_END = -18, 330   # hours, extent of the 0-degree reference line

# ---------------- styling constants ----------------
W, H = 800, 1200
BORDER = "#a3c1ef"
BAND = "#f2f2f2"
GRID = "#e6e6e6"
AXIS = "#ccd6eb"
LABEL = "#666666"
GREEN = "#008000"
RED = "#ff0000"
BROWN = "#a52a2a"

PANELS = [
    dict(xlim=(-8.9, 351.7), ylim=(0, 14), yticks=list(range(0, 15, 2)),
         ctrl=PRECIP_CTRL, hires=PRECIP_HIRES, med=PRECIP_MED, runs=PRECIP_RUNS, idx=ENS_IDX, zero=False),
    dict(xlim=(-8.9, 351.7), ylim=(0, 15), yticks=[0, 5, 10, 15],
         ctrl=WIND_CTRL, hires=WIND_HIRES, med=WIND_MED, runs=WIND_RUNS, idx=ENS_IDX, zero=False),
    dict(xlim=(-21.5, 351.8), ylim=(-10, 15), yticks=[-10, -5, 0, 5, 10, 15],
         ctrl=TEMP_CTRL, hires=TEMP_HIRES, med=TEMP_MED, runs=TEMP_RUNS, idx=ENS_IDX_T, zero=True),
]


def fy(y):
    return 1 - y / H


fig = plt.figure(figsize=(W / 100, H / 100), dpi=100)

for i, (title, p) in enumerate(zip(TITLES, PANELS)):
    oy = 400 * i
    fig.add_artist(Rectangle((1.0 / W, fy(oy + 397.5)), 797.0 / W, 396.5 / H,
                             transform=fig.transFigure, fill=False, ec=BORDER, lw=1.0))
    fig.text(0.5, fy(oy + 18), title, ha="center", va="center", fontsize=13, color="#333333")
    fig.text(0.5, fy(oy + 42), SUBTITLE, ha="center", va="center", fontsize=8.4, color=LABEL)

    ax = fig.add_axes([50 / W, fy(oy + 323.3), 700 / W, 261.6 / H])
    ax.set_xlim(*p["xlim"])
    ax.set_ylim(*p["ylim"])
    for d in range(0, 15, 2):
        ax.axvspan(24 * d, 24 * d + 24, color=BAND, lw=0, zorder=0)
    ax.set_yticks(p["yticks"])
    ax.yaxis.grid(True, color=GRID, lw=0.8)
    ax.set_axisbelow(True)
    for s in ("top", "left", "right"):
        ax.spines[s].set_visible(False)
    ax.spines["bottom"].set_color(AXIS)
    ax.spines["bottom"].set_linewidth(0.9)
    ax.spines["bottom"].set_zorder(6)
    ax.set_xticks([24 * d for d in range(15)])
    ax.set_xticklabels([])
    ax.tick_params(axis="x", length=6, width=0.8, color=AXIS, direction="out")
    ax.tick_params(axis="y", length=0, labelsize=7.8, labelcolor=LABEL, pad=10.8,
                   labelleft=True, labelright=True, left=False, right=False)

    # day labels
    base = blended_transform_factory(ax.transData, ax.transAxes)
    t1 = base + ScaledTranslation(1.5 / 100, -14.5 / 100, fig.dpi_scale_trans)
    t2 = base + ScaledTranslation(1.5 / 100, -29.2 / 100, fig.dpi_scale_trans)
    for d, (dn, dt) in enumerate(zip(DAY_NAMES, DAY_DATES)):
        ax.text(24 * d, 0, dn, transform=t1, ha="left", va="center", fontsize=8,
                color=LABEL, clip_on=False)
        ax.text(24 * d, 0, dt, transform=t2, ha="left", va="center", fontsize=8,
                color=LABEL, clip_on=False)

    if p["zero"]:
        ax.hlines(0, TEMP_ZERO_START, TEMP_ZERO_END, color="#707070", lw=1.0, zorder=1.5)

    ens_x = [HOURS[k] for k in p["idx"]]
    for run in p["runs"]:
        n = min(len(run), len(ens_x))
        ax.plot(ens_x[:n], run[:n], color=GREEN, lw=0.8, alpha=0.5, zorder=2)
    ax.plot(HOURS[:len(p["med"])], p["med"], color=BROWN, lw=1.7, ls=(0, (3, 1.5)), zorder=3)
    ax.plot(HOURS[:len(p["hires"])], p["hires"], color=RED, lw=1.7, zorder=4)
    ax.plot(HOURS[:len(p["ctrl"])], p["ctrl"], color="black", lw=1.8, ls=(0, (3, 1.3)), zorder=5)

    # legend
    ly = fy(oy + 379)
    styles = [dict(color="black", ls=(0, (3, 1.3)), lw=2.0),
              dict(color=RED, ls="-", lw=2.0),
              dict(color=BROWN, ls=(0, (3, 1.3)), lw=2.0),
              dict(color=GREEN, ls="-", lw=2.0)]
    sym_x = [178, 261, 379, 504]
    for lab, st, sx in zip(LEGEND_LABELS, styles, sym_x):
        fig.add_artist(Line2D([sx / W, (sx + 16) / W], [ly, ly], transform=fig.transFigure, **st))
        fig.text((sx + 21.5) / W, ly, lab, ha="left", va="center", fontsize=8.6, color="#333333")

    fig.text(788 / W, fy(oy + 392), SOURCE, ha="right", va="center", fontsize=6.5, color="#999999")

fig.savefig("out.png", dpi=100)
